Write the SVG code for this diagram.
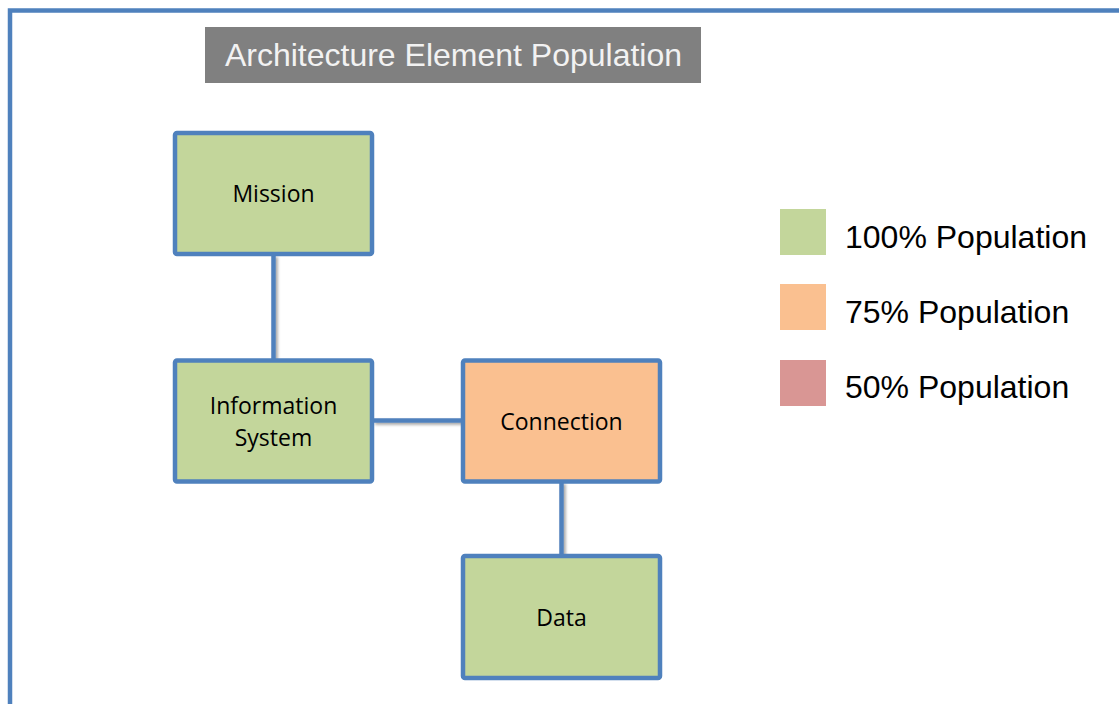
<svg xmlns="http://www.w3.org/2000/svg" width="1119" height="704" viewBox="0 0 1119 704">
  <defs>
    <style>
      .node { stroke: #4f81bd; stroke-width: 4.5; }
      .green { fill: #c3d69b; }
      .orange { fill: #fac090; }
      .red { fill: #d99694; }
      .lbl { font-family: "Open Sans", "Noto Sans", sans-serif; font-size: 23px; fill: #000; text-anchor: middle; }
      .leg { font-family: "Liberation Sans", Arial, sans-serif; font-size: 32px; fill: #000; }
      .conn { stroke: #4f81bd; stroke-width: 4.5; fill: none; }
    </style>
    <filter id="sh" x="-50%" y="-50%" width="200%" height="200%">
      <feGaussianBlur in="SourceAlpha" stdDeviation="1.5"/>
      <feOffset dx="1.5" dy="2" result="b"/>
      <feComponentTransfer><feFuncA type="linear" slope="0.35"/></feComponentTransfer>
      <feMerge><feMergeNode/><feMergeNode in="SourceGraphic"/></feMerge>
    </filter>
  </defs>
  <rect width="1119" height="704" fill="#ffffff"/>
  <rect x="10" y="10.5" width="1200" height="800" fill="none" stroke="#4f81bd" stroke-width="4.5"/>

  <g id="title">
    <rect x="205" y="27" width="496" height="56" fill="#808080"/>
    <text x="453.5" y="65.5" font-family="'Liberation Sans', Arial, sans-serif" font-size="32" fill="#f2f2f2" text-anchor="middle">Architecture Element Population</text>
  </g>

  <g id="connectors" filter="url(#sh)">
    <line class="conn" x1="273.5" y1="255" x2="273.5" y2="359"/>
    <line class="conn" x1="373" y1="420.5" x2="462" y2="420.5"/>
    <line class="conn" x1="561.5" y1="482" x2="561.5" y2="555"/>
  </g>

  <g id="mission">
    <rect class="node green" x="175" y="133" width="197" height="121" rx="2"/>
    <text class="lbl" x="273.5" y="201.5">Mission</text>
  </g>
  <g id="information-system">
    <rect class="node green" x="175" y="360.5" width="197" height="121" rx="2"/>
    <text class="lbl" x="273.5" y="414">Information</text>
    <text class="lbl" x="273.5" y="446">System</text>
  </g>
  <g id="connection">
    <rect class="node orange" x="463" y="360.5" width="197" height="121" rx="2"/>
    <text class="lbl" x="561.5" y="430">Connection</text>
  </g>
  <g id="data">
    <rect class="node green" x="463" y="556" width="197" height="122" rx="2"/>
    <text class="lbl" x="561.5" y="626">Data</text>
  </g>

  <g id="legend">
    <rect class="green" x="780" y="209" width="46" height="46"/>
    <text class="leg" x="845" y="248.3">100% Population</text>
    <rect class="orange" x="780" y="284" width="46" height="46"/>
    <text class="leg" x="845" y="323.3">75% Population</text>
    <rect class="red" x="780" y="360" width="46" height="46"/>
    <text class="leg" x="845" y="398.3">50% Population</text>
  </g>
</svg>
